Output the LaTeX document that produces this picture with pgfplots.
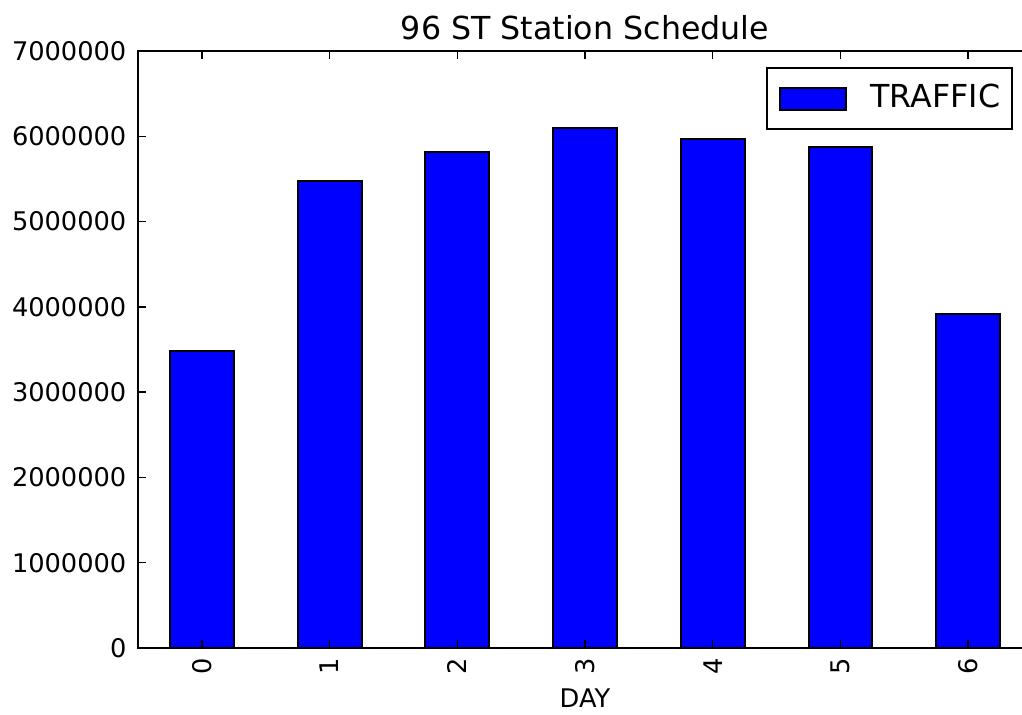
\documentclass[border=0pt]{standalone}
\usepackage{pgfplots}
\pgfplotsset{compat=1.18}
\usepackage{fontspec}
\setmainfont{DejaVu Sans}

\begin{document}
\begin{tikzpicture}
\begin{axis}[
  scale only axis,
  width=268.2pt, height=179.1pt,
  xmin=-0.5, xmax=6.5,
  ymin=0, ymax=7000000,
  axis on top,
  xtick={0,1,2,3,4,5,6},
  ytick={0,1000000,2000000,3000000,4000000,5000000,6000000,7000000},
  scaled y ticks=false,
  /pgf/number format/assume math mode=true,
  yticklabel style={/pgf/number format/fixed, /pgf/number format/1000 sep={},
    font=\fontsize{7.7}{9}\selectfont, inner sep=0pt},
  yticklabel shift=3.3pt,
  xticklabel style={rotate=90, anchor=east, font=\fontsize{7.7}{9}\selectfont, inner sep=0pt},
  xticklabel shift=3pt,
  tick align=inside,
  major tick length=2.4pt,
  tick style={black, line width=0.45pt},
  axis line style={black, line width=0.6pt},
  legend style={at={(axis description cs:0.979,0.973)}, anchor=north east,
    draw=black, line width=0.6pt, font=\fontsize{9.5}{11}\selectfont,
    inner xsep=3.6pt, inner ysep=4.9pt,
    nodes={inner sep=0pt},
    /tikz/every odd column/.append style={column sep=7.2pt}},
  legend image code/.code={%
    \draw[fill=blue, draw=black, line width=0.6pt] (0pt,-3.3pt) rectangle (19.8pt,3.3pt);},
]
\addplot[ybar, bar width=0.5, fill=blue, draw=black, line width=0.6pt]
  coordinates {(0,3478000) (1,5473000) (2,5813000) (3,6100000) (4,5970000) (5,5877000) (6,3917000)};
\addlegendentry{TRAFFIC}
\coordinate (bl) at (rel axis cs:0,0);
\coordinate (tr) at (rel axis cs:1,1);
\coordinate (tc) at (rel axis cs:0.5,1);
\coordinate (bc) at (rel axis cs:0.5,0);
\end{axis}
% title and axis label
\node[anchor=base, inner sep=0pt, font=\fontsize{9.5}{11}\selectfont]
  at ([yshift=3.45pt]tc) {96 ST Station Schedule};
\node[anchor=base, inner sep=0pt, font=\fontsize{7.7}{9}\selectfont]
  at ([yshift=-18pt]bc) {DAY};
\pgfresetboundingbox
\path[use as bounding box] ([xshift=-41.4pt,yshift=-20.1pt]bl) rectangle ([xshift=-3pt,yshift=15.3pt]tr);
\end{tikzpicture}
\end{document}
